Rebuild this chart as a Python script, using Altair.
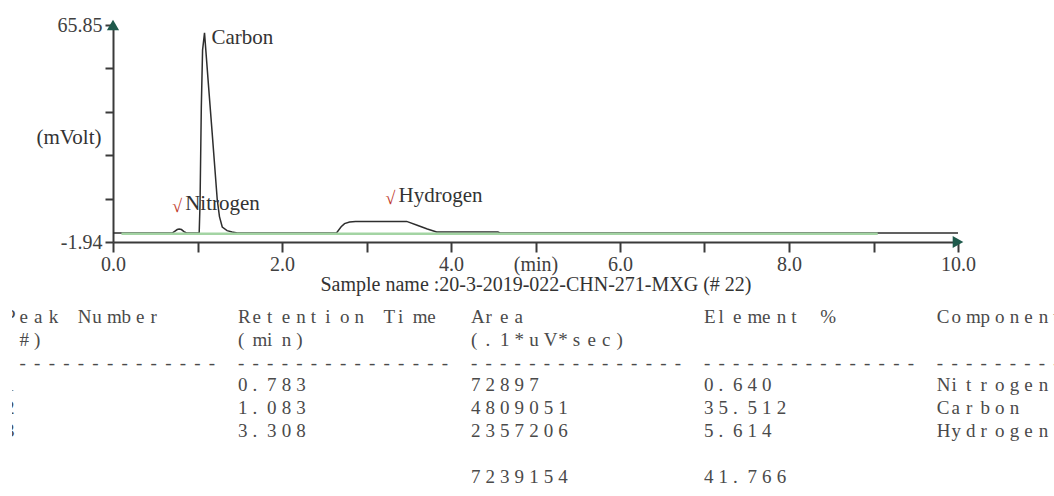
import altair as alt
import pandas as pd

# ---- chromatogram trace (retention time in min, detector signal in mV) ----
trace_time = [0.00, 0.70, 0.73, 0.76, 0.783, 0.81, 0.84, 0.87,
              1.02, 1.03, 1.045, 1.06, 1.083, 1.13, 1.174, 1.234, 1.26, 1.293,
              1.35, 1.41, 1.47,
              2.645, 2.70, 2.74, 2.80, 2.87, 3.475, 3.60, 3.72, 3.83, 4.555,
              4.58, 10.0]
trace_mv = [0.87, 0.87, 1.4, 1.95, 2.1, 1.95, 1.3, 0.87,
            0.87, 10.0, 40.0, 58.0, 63.4, 47.0, 32.0, 11.2, 6.0, 2.75,
            1.6, 1.2, 0.87,
            0.87, 2.8, 3.8, 4.3, 4.5, 4.5, 3.3, 2.1, 1.2, 1.2,
            0.87, 0.87]

# integration baseline
baseline_time = [0.1, 9.05]
baseline_mv = [0.6, 0.6]

# signal axis limits
y_min, y_max = -1.94, 65.85
x_min, x_max = 0.0, 10.0

# ---- peak report ----
peak_numbers = [1, 2, 3]
retention_times = [0.783, 1.083, 3.308]
areas = [72897, 4809051, 2357206]
element_pct = [0.640, 35.512, 5.614]
components = ["Nitrogen", "Carbon", "Hydrogen"]
peak_heights = [2.1, 63.4, 4.5]
total_area = 7239154
total_pct = 41.766

header_1 = ["Peak Number", "Retention Time", "Area", "Element %", "Component"]
header_2 = ["(#)", "(min)", "(.1*uV*sec)", "", ""]
sample_name = "Sample name :20-3-2019-022-CHN-271-MXG (# 22)"

SERIF = "Liberation Serif"
INK = "#333333"
AXIS_INK = "#3a3a3a"

# ---- fixed-width report layout: one glyph per character cell ----
COL_CHARS = 16
report_lines = [
    header_1,
    header_2,
    ["-" * 15] * 5,
]
for n, rt, ar, pct, comp in zip(peak_numbers, retention_times, areas,
                                element_pct, components):
    report_lines.append([str(n), f"{rt:.3f}", str(ar), f"{pct:.3f}", comp])
report_lines.append(["", "", "", "", ""])
report_lines.append(["", "", str(total_area), f"{total_pct:.3f}", ""])

cells = []
for li, line in enumerate(report_lines):
    for ci, text in enumerate(line):
        for k, ch in enumerate(text):
            if ch != " ":
                cells.append({"line": li, "pos": ci * COL_CHARS + k, "ch": ch})
cells = pd.DataFrame(cells)

trace = pd.DataFrame({"t": trace_time, "mv": trace_mv})
base = pd.DataFrame({"t": baseline_time, "mv": baseline_mv})
peaks = pd.DataFrame({"name": components, "rt": retention_times,
                      "height": peak_heights})
arrows = pd.DataFrame({"t": [x_min, x_max], "mv": [y_max, y_min],
                       "shape": ["triangle-up", "triangle-right"]})

xs = alt.Scale(domain=[x_min, x_max], range=[101, 946], nice=False, zero=False)
ys = alt.Scale(domain=[y_min, y_max], range=[242, 25], nice=False, zero=False)

y_ticks = [y_min + k * (y_max - y_min) / 5 for k in range(6)]

x_axis = alt.Axis(
    values=list(range(11)),
    labelExpr="datum.value == 5 ? '(min)' : (datum.value % 2 == 0 ? format(datum.value, '.1f') : '')",
    labelFlush=False, labelOverlap=False, grid=False,
    offset=-254, tickSize=10, tickWidth=2, tickColor=AXIS_INK,
    domainWidth=2, domainColor=AXIS_INK,
    labelFont=SERIF, labelFontSize=20, labelColor="#404040", labelPadding=2,
    title=sample_name, titleFont=SERIF, titleFontSize=20,
    titleFontWeight="normal", titleColor=INK, titleY=42,
    titleBaseline="middle",
)
y_axis = alt.Axis(
    values=y_ticks,
    labelExpr="datum.value < 0 ? '-' + format(-datum.value, '.2f') : (datum.value > 60 ? format(datum.value, '.2f') : '')",
    labelFlush=False, labelOverlap=False, grid=False,
    offset=-101, tickSize=8, tickWidth=2, tickColor=AXIS_INK,
    domainWidth=2, domainColor=AXIS_INK,
    labelFont=SERIF, labelFontSize=20, labelColor="#404040", labelPadding=3,
    title="(mVolt)", titleAngle=0, titleAlign="right", titleBaseline="middle",
    titleX=-12, titleY=137, titleFont=SERIF, titleFontSize=21,
    titleFontWeight="normal", titleColor=INK,
)

signal = alt.Chart(trace).mark_line(color="#2e2e2e", strokeWidth=1.5).encode(
    x=alt.X("t:Q", scale=xs, axis=x_axis),
    y=alt.Y("mv:Q", scale=ys, axis=y_axis),
)

baseline = alt.Chart(base).mark_line(color="#a3d4a3", strokeWidth=2.5).encode(
    x=alt.X("t:Q", scale=xs, axis=None),
    y=alt.Y("mv:Q", scale=ys, axis=None),
)

axis_arrows = alt.Chart(arrows).mark_point(
    filled=True, size=150, color="#1f5a4c", opacity=1
).encode(
    x=alt.X("t:Q", scale=xs, axis=None),
    y=alt.Y("mv:Q", scale=ys, axis=None),
    shape=alt.Shape("shape:N", scale=None),
)

tall_label = alt.Chart(peaks).transform_filter("datum.height > 50").mark_text(
    align="left", baseline="middle", dx=7, dy=5,
    font=SERIF, fontSize=21, color=INK,
).encode(
    x=alt.X("rt:Q", scale=xs, axis=None),
    y=alt.Y("height:Q", scale=ys, axis=None),
    text="name:N",
)

small_labels = alt.Chart(peaks).transform_filter("datum.height < 50").mark_text(
    align="left", baseline="middle", dx=6, dy=-25,
    font=SERIF, fontSize=21, color=INK,
).encode(
    x=alt.X("rt:Q", scale=xs, axis=None),
    y=alt.Y("height:Q", scale=ys, axis=None),
    text="name:N",
)

peak_marks = alt.Chart(peaks).transform_filter("datum.height < 50").mark_text(
    text="\u221a", align="center", baseline="middle", dx=-2, dy=-22,
    font=SERIF, fontSize=18, color="#c0392b",
).encode(
    x=alt.X("rt:Q", scale=xs, axis=None),
    y=alt.Y("height:Q", scale=ys, axis=None),
)

PITCH = 14.56
X0 = -7
report = alt.Chart(cells).mark_text(
    align="left", baseline="middle", font=SERIF, fontSize=19,
    color="#4a4a4a", clip=True,
).encode(
    x=alt.X("pos:Q", axis=None,
            scale=alt.Scale(domain=[0, 72], range=[X0, X0 + 72 * PITCH],
                            nice=False, zero=False)),
    y=alt.Y("line:Q", axis=None,
            scale=alt.Scale(domain=[0, 7], range=[317, 317 + 7 * 22.8],
                            nice=False, zero=False)),
    text="ch:N",
)

chart = alt.layer(
    signal, baseline, axis_arrows, tall_label, small_labels, peak_marks, report
).resolve_scale(
    x="independent", y="independent"
).properties(
    width=1042, height=496,
    autosize=alt.AutoSizeParams(type="none"),
    padding={"left": 12, "top": 0, "right": 0, "bottom": 0},
    background="white",
).configure_view(strokeWidth=0)

chart.save("out.html", embed_options={"renderer": "svg", "actions": False})
